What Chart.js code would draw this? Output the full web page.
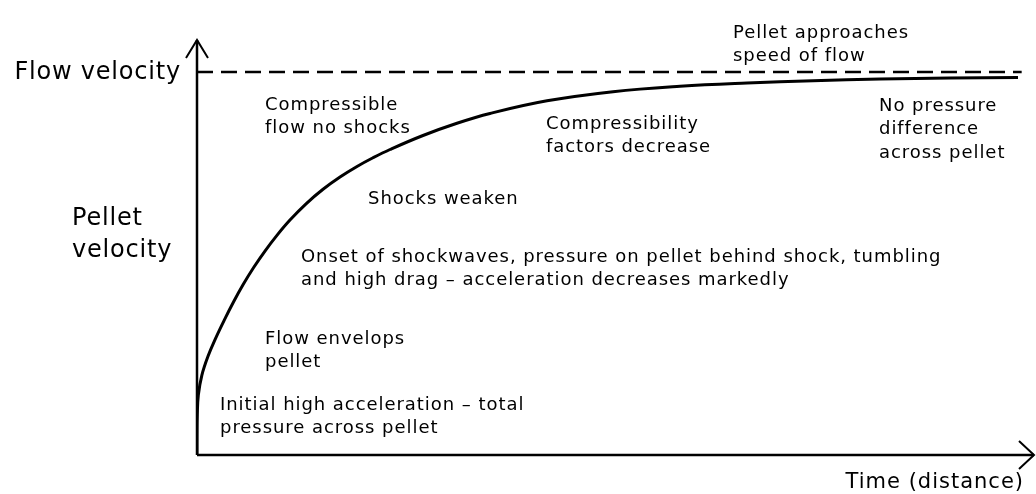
<!DOCTYPE html>
<html>
<head>
<meta charset="utf-8">
<script src="https://cdn.jsdelivr.net/npm/chart.js@4/dist/chart.umd.min.js"></script>
<style>
html,body{margin:0;padding:0;background:#fff;}
#wrap{width:1036px;height:494px;position:relative;}
</style>
</head>
<body>
<div id="wrap"><canvas id="c"></canvas></div>
<script>
// Time (distance), arbitrary units
const timeValues = [0, 0.004, 0.034, 0.16, 0.58, 1.32, 2.26, 3.29, 4.38, 5.54, 6.80, 8.16, 9.62, 11.16, 13.09, 15.13, 17.17, 19.21, 21.13, 23.17, 27.13, 31.21, 35.17, 42.02, 49.94, 57.98, 66.03, 73.95, 81.99, 90.40, 98.56];
// Pellet velocity, % of flow velocity
const pelletVelocity = [0, 5.22, 10.44, 15.65, 20.80, 25.76, 30.57, 35.28, 39.93, 44.49, 48.94, 53.24, 57.39, 61.32, 65.57, 69.36, 72.56, 75.31, 77.58, 79.74, 83.40, 86.59, 89.14, 92.44, 94.83, 96.24, 97.10, 97.70, 98.12, 98.41, 98.56];
// Flow velocity reference line
const flowTime = [0, 99];
const flowVelocity = [100, 100];

const yAxisLabel = ["Pellet", "velocity"];
const flowLabel = "Flow velocity";
const xAxisLabel = "Time (distance)";
const annotationTexts = [
  ["Pellet approaches", "speed of flow"],
  ["Compressible", "flow no shocks"],
  ["Compressibility", "factors decrease"],
  ["No pressure", "difference", "across pellet"],
  ["Shocks weaken"],
  ["Onset of shockwaves, pressure on pellet behind shock, tumbling", "and high drag \u2013 acceleration decreases markedly"],
  ["Flow envelops", "pellet"],
  ["Initial high acceleration \u2013 total", "pressure across pellet"]
];
// layout (pixel) positions for annotations: left x, first-line center y
const annotationPos = [[733,33],[265,105],[546,124],[879,106],[368,199],[301,257],[265,339],[220,405]];

const curvePts = timeValues.map((t,i)=>({x:t,y:pelletVelocity[i]}));
const flowPts = flowTime.map((t,i)=>({x:t,y:flowVelocity[i]}));

const FONT = 'Verdana, "DejaVu Sans", sans-serif';

const decor = {
  id:'decor',
  afterDraw(chart){
    const ctx = chart.ctx;
    const xs = chart.scales.x, ys = chart.scales.y;
    const x0 = xs.getPixelForValue(0), y0 = ys.getPixelForValue(0);
    const yTop = ys.top - 2, xRight = xs.right + 4;
    ctx.save();
    ctx.strokeStyle = '#000';
    ctx.lineWidth = 2.5;
    ctx.lineCap = 'butt';
    ctx.beginPath();
    ctx.moveTo(x0, y0); ctx.lineTo(x0, yTop);
    ctx.moveTo(x0, y0); ctx.lineTo(xRight, y0);
    ctx.stroke();
    ctx.lineWidth = 2;
    ctx.beginPath();
    ctx.moveTo(x0-11, yTop+18); ctx.lineTo(x0, yTop); ctx.lineTo(x0+11, yTop+18);
    ctx.moveTo(xRight-15, y0-14); ctx.lineTo(xRight, y0); ctx.lineTo(xRight-15, y0+14);
    ctx.stroke();

    ctx.fillStyle = '#000';
    ctx.textBaseline = 'middle';
    ctx.font = '18px ' + FONT;
    ctx.letterSpacing = '0.95px';
    ctx.textAlign = 'left';
    annotationTexts.forEach((lines, i)=>{
      const [px, py] = annotationPos[i];
      lines.forEach((l, j)=> ctx.fillText(l, px, py + j*23.5));
    });
    ctx.font = '24px ' + FONT;
    ctx.letterSpacing = '0.8px';
    ctx.textAlign = 'right';
    ctx.fillText(flowLabel, x0 - 16, ys.getPixelForValue(100) + 1);
    ctx.textAlign = 'left';
    ctx.fillText(yAxisLabel[0], 72, 219);
    ctx.fillText(yAxisLabel[1], 72, 251);
    ctx.font = '21px ' + FONT;
    ctx.letterSpacing = '1px';
    ctx.textAlign = 'right';
    ctx.fillText(xAxisLabel, 1024, 483);
    ctx.restore();
  }
};

new Chart(document.getElementById('c'), {
  type:'scatter',
  data:{datasets:[
    {data:flowPts, showLine:true, borderColor:'#000', borderWidth:2.5, borderDash:[16,8], pointRadius:0, fill:false},
    {data:curvePts, showLine:true, borderColor:'#000', borderWidth:3, pointRadius:0, tension:0.4, fill:false}
  ]},
  options:{
    responsive:true, maintainAspectRatio:false, animation:false,
    layout:{padding:{left:197, right:6, top:42, bottom:39}},
    plugins:{legend:{display:false}, tooltip:{enabled:false}},
    scales:{
      x:{type:'linear', min:0, max:100, display:false},
      y:{type:'linear', min:0, max:107.8, display:false}
    }
  },
  plugins:[decor]
});
</script>
</body>
</html>
